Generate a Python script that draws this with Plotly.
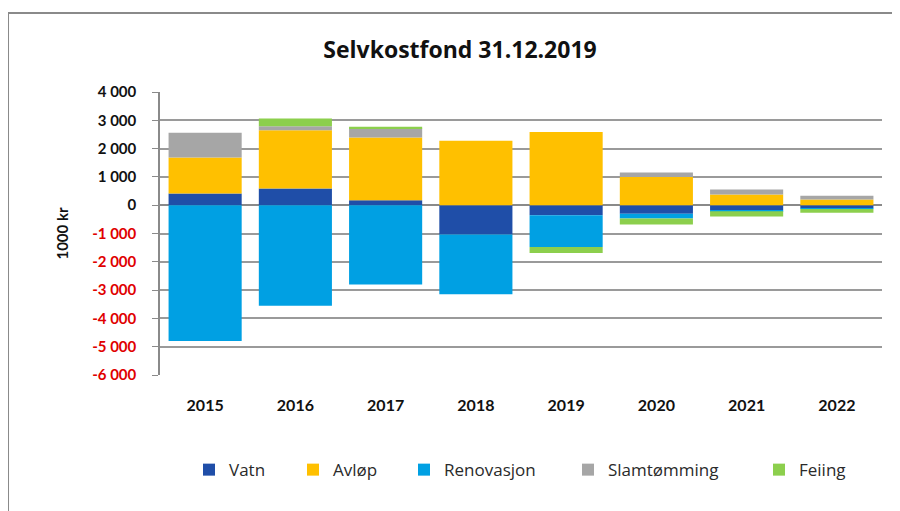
import plotly.graph_objects as go

years = ["2015", "2016", "2017", "2018", "2019", "2020", "2021", "2022"]
vatn = [413, 590, 177, -1037, -353, -300, -180, -110]
avlop = [1270, 2060, 2215, 2273, 2590, 1000, 377, 200]
renovasjon = [-4795, -3557, -2803, -2108, -1120, -170, -30, -20]
slamtomming = [880, 140, 320, 0, 0, 155, 176, 130]
feiing = [0, 270, 60, 0, -212, -210, -190, -140]

series_names = ["Vatn", "Avløp", "Renovasjon", "Slamtømming", "Feiing"]
series_values = [vatn, avlop, renovasjon, slamtomming, feiing]
series_colors = ["#1F4EA8", "#FFC000", "#00A0E3", "#A6A6A6", "#8CCF4D"]

tick_vals = [4000, 3000, 2000, 1000, 0, -1000, -2000, -3000, -4000, -5000, -6000]
tick_text = ["4 000", "3 000", "2 000", "1 000", "0",
             "-1 000", "-2 000", "-3 000", "-4 000", "-5 000", "-6 000"]

# legend item symbol centres (page px) -> separate legends for spacing
legend_px = [209, 313, 424, 588, 779]
legend_ids = ["legend", "legend2", "legend3", "legend4", "legend5"]

fig = go.Figure()
for name, vals, col, lid in zip(series_names, series_values, series_colors, legend_ids):
    fig.add_trace(go.Bar(x=years, y=vals, name=name, legend=lid,
                         marker=dict(color=col, line=dict(width=0))))

ticktext_colored = [
    (f"<span style='color:#E00000'>{t}</span>" if v < 0 else t)
    for v, t in zip(tick_vals, tick_text)
]

PLOT_L, PLOT_W = 160, 722
legend_layouts = {}
for lid, cx in zip(legend_ids, legend_px):
    legend_layouts[lid] = dict(
        orientation="h", x=(cx - 20 - PLOT_L) / PLOT_W, xanchor="left",
        y=-0.336, yanchor="middle", bgcolor="rgba(0,0,0,0)",
        font=dict(size=17, color="#2a2a2a", family="Open Sans, sans-serif"))

FIG_W, FIG_H = 884, 503

fig.update_layout(
    width=FIG_W, height=FIG_H,
    barmode="relative",
    bargap=0.19,
    paper_bgcolor="white", plot_bgcolor="white",
    margin=dict(l=152, r=10, t=84, b=136),
    font=dict(family="Lato, Open Sans, sans-serif", color="#1a1a1a"),
    title=dict(text="<b>Selvkostfond 31.12.2019</b>", x=452 / FIG_W, xanchor="center",
               y=1 - 42 / FIG_H, yanchor="middle",
               font=dict(size=23, color="#111", family="Open Sans, sans-serif")),
    showlegend=True,
    xaxis=dict(showgrid=False, showline=False, ticks="", ticklabelstandoff=19,
               tickfont=dict(size=16, weight="bold", color="#111")),
    yaxis=dict(range=[-6000, 4000], tickvals=tick_vals, ticktext=ticktext_colored,
               showgrid=True, gridcolor="#9A9A9A", gridwidth=1.5,
               zeroline=True, zerolinecolor="#8A8A8A", zerolinewidth=1.5,
               showline=True, linecolor="#8A8A8A", linewidth=1.5,
               ticks="outside", ticklen=6, tickcolor="#8A8A8A",
               ticklabelstandoff=13,
               tickfont=dict(size=15, weight="bold", color="#111"),
               title=dict(text="1000 kr", font=dict(size=15, color="#111", weight="bold"), standoff=20)),
    shapes=[
        dict(type="rect", xref="paper", yref="paper", x0=-0.2105, x1=1.3, y0=-0.8, y1=1.279,
             line=dict(color="#8A8A8A", width=2), fillcolor="rgba(0,0,0,0)", layer="below"),
    ],
    **legend_layouts,
)

fig.write_html("out.html")
